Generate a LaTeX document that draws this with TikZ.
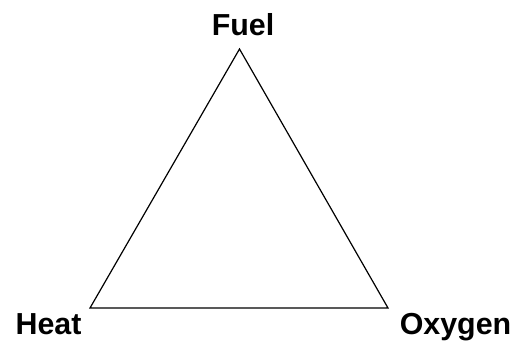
\documentclass[tikz,border=0pt]{standalone}
\usepackage{fontspec}
\setmainfont{Liberation Sans}
\begin{document}
\begin{tikzpicture}[x=1bp,y=1bp,
  lbl/.style={font=\fontsize{30.5}{33}\selectfont\bfseries, inner sep=0pt, anchor=base},
  edge/.style={draw=black, line width=1.2bp, line join=miter}]
\useasboundingbox (0,0) rectangle (516,347);
\coordinate (top) at (239.5,298);
\coordinate (bl) at (90,39);
\coordinate (br) at (388,39);
\draw[edge] (top) -- (bl) -- (br) -- cycle;
\node[lbl] (fuel) at (243,312) {Fuel};
\node[lbl] (heat) at (48.5,13) {Heat};
\node[lbl] (oxygen) at (455.5,13) {Oxygen};
\end{tikzpicture}
\end{document}
